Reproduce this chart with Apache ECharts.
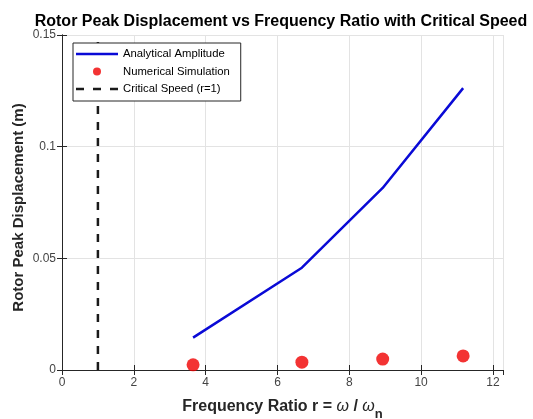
<!DOCTYPE html>
<html>
<head>
<meta charset="utf-8">
<script src="https://cdn.jsdelivr.net/npm/echarts@6/dist/echarts.min.js"></script>
<style>
  html, body { margin: 0; padding: 0; background: #fff; }
  #chart { width: 533px; height: 419px; }
</style>
</head>
<body>
<div id="chart"></div>
<script>
// Frequency ratio r = omega / omega_n of each run
const ratio = [3.65, 6.68, 8.93, 11.17];
// Peak rotor displacement (m)
const analyticalAmp = [0.0145, 0.0458, 0.0815, 0.1262];
const numericalAmp = [0.0023, 0.0035, 0.0049, 0.0063];
// Critical speed marker at r = 1
const criticalRatio = 1;
const yRange = [0, 0.15];
const xRange = [0, 12.28];

const FONT = 'Liberation Sans, Arial, Helvetica, sans-serif';
const AX = '#262626';
const GRID = '#e3e3e3';

// Legend glyphs: a plain stroke and a three-dash stroke
const SOLID_ICON = 'path://M0,0H42V2.5H0Z';
const DASH_ICON = 'path://M0,0H8V2.5H0Z M17,0H25V2.5H17Z M34,0H42V2.5H34Z';

const chart = echarts.init(document.getElementById('chart'), null, { renderer: 'canvas' });

const hiddenLabelAxis = {
  axisLine: { show: true, lineStyle: { color: AX, width: 1 } },
  axisTick: { show: true, inside: true, length: 5, lineStyle: { color: AX } },
  axisLabel: { show: false },
  splitLine: { show: false }
};

chart.setOption({
  animation: false,
  backgroundColor: '#fff',
  title: {
    text: 'Rotor Peak Displacement vs Frequency Ratio with Critical Speed',
    left: 276,
    top: 9,
    textAlign: 'center',
    textStyle: { fontFamily: FONT, fontSize: 16, fontWeight: 'bold', color: '#000' }
  },
  grid: { left: 62, right: 30, top: 35, bottom: 49, containLabel: false, outerBoundsMode: 'none' },
  legend: {
    orient: 'vertical',
    left: 73,
    top: 43,
    backgroundColor: '#fff',
    borderColor: AX,
    borderWidth: 1,
    borderRadius: 0,
    padding: [4, 11, 5, 3],
    itemWidth: 42,
    itemHeight: 8,
    itemGap: 3.5,
    textStyle: { fontFamily: FONT, fontSize: 11.3, color: '#000', lineHeight: 14 },
    data: [
      { name: 'Analytical Amplitude', icon: SOLID_ICON },
      { name: 'Numerical Simulation', icon: 'circle' },
      { name: 'Critical Speed (r=1)', icon: DASH_ICON }
    ]
  },
  xAxis: [
    {
      type: 'value',
      min: xRange[0],
      max: xRange[1],
      interval: 2,
      position: 'bottom',
      name: '{a|Frequency Ratio r = }{w|ω}{a| / }{w|ω}{s|n}',
      nameLocation: 'middle',
      nameGap: 29,
      nameMoveOverlap: false,
      nameTextStyle: {
        rich: {
          a: { fontFamily: FONT, fontSize: 16, fontWeight: 'bold', color: AX, verticalAlign: 'top', lineHeight: 18 },
          w: { fontFamily: FONT, fontSize: 16, fontStyle: 'italic', color: AX, verticalAlign: 'top', lineHeight: 18 },
          s: { fontFamily: FONT, fontSize: 13, fontWeight: 'bold', color: AX, verticalAlign: 'top', padding: [9, 0, 0, 0], lineHeight: 15 }
        }
      },
      axisLine: { show: true, lineStyle: { color: AX, width: 1 } },
      axisTick: { show: true, inside: true, length: 5, lineStyle: { color: AX } },
      axisLabel: { fontFamily: FONT, fontSize: 12, color: '#444', margin: 7, showMaxLabel: false },
      splitLine: { show: true, lineStyle: { color: GRID, width: 1 } }
    },
    Object.assign({ type: 'value', min: xRange[0], max: xRange[1], interval: 2, position: 'top' }, hiddenLabelAxis)
  ],
  yAxis: [
    {
      type: 'value',
      min: yRange[0],
      max: yRange[1],
      interval: 0.05,
      position: 'left',
      name: 'Rotor Peak Displacement (m)',
      nameLocation: 'middle',
      nameGap: 36,
      nameMoveOverlap: false,
      nameTextStyle: { fontFamily: FONT, fontSize: 15, fontWeight: 'bold', color: AX, padding: [0, 10, 0, 0] },
      axisLine: { show: true, lineStyle: { color: AX, width: 1 } },
      axisTick: { show: true, inside: true, length: 5, lineStyle: { color: AX } },
      axisLabel: { fontFamily: FONT, fontSize: 12, color: '#444', margin: 6 },
      splitLine: { show: true, lineStyle: { color: GRID, width: 1 } }
    },
    Object.assign({ type: 'value', min: yRange[0], max: yRange[1], interval: 0.05, position: 'right' }, hiddenLabelAxis)
  ],
  series: [
    {
      name: 'Analytical Amplitude',
      type: 'line',
      data: ratio.map((r, i) => [r, analyticalAmp[i]]),
      symbol: 'none',
      lineStyle: { color: '#0a0ad6', width: 2.5 },
      itemStyle: { color: '#0a0ad6' },
      z: 3
    },
    {
      name: 'Numerical Simulation',
      type: 'scatter',
      data: ratio.map((r, i) => [r, numericalAmp[i]]),
      symbol: 'circle',
      symbolSize: 13,
      itemStyle: { color: '#f00000' },
      z: 4
    },
    {
      name: 'Critical Speed (r=1)',
      type: 'line',
      data: [[criticalRatio, yRange[0]], [criticalRatio, yRange[1]]],
      symbol: 'none',
      lineStyle: { color: '#1a1a1a', width: 2.5, type: [8, 8] },
      itemStyle: { color: '#1a1a1a' },
      z: 2
    }
  ]
});
</script>
</body>
</html>
